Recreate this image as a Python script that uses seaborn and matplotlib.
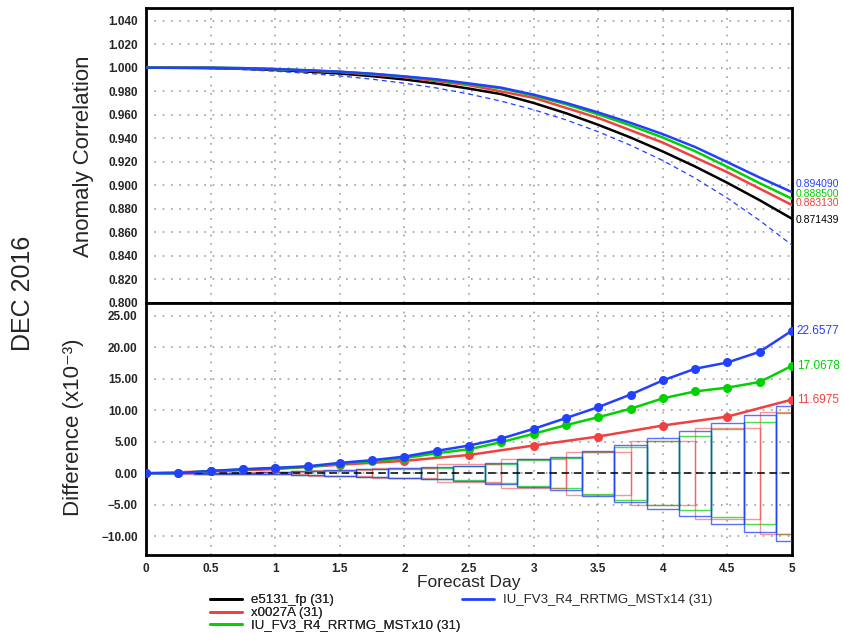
import numpy as np
import pandas as pd
import matplotlib
matplotlib.use("Agg")
import matplotlib.pyplot as plt
import seaborn as sns
from matplotlib.lines import Line2D

# ---------------- data ----------------
days = [0, 0.25, 0.5, 0.75, 1.0, 1.25, 1.5, 1.75, 2.0, 2.25, 2.5,
        2.75, 3.0, 3.25, 3.5, 3.75, 4.0, 4.25, 4.5, 4.75, 5.0]
days_half = [0, 0.5, 1.0, 1.5, 2.0, 2.5, 3.0, 3.5, 4.0, 4.5, 5.0]

series_names = ["e5131_fp (31)", "x0027A (31)",
                "IU_FV3_R4_RRTMG_MSTx10 (31)", "IU_FV3_R4_RRTMG_MSTx14 (31)"]

# anomaly correlation (top panel)
ac_e5131 = [1.0000, 0.9999, 0.9996, 0.9990, 0.9980, 0.9967, 0.9950, 0.9928, 0.9900, 0.9865,
            0.9822, 0.9775, 0.9700, 0.9613, 0.9514, 0.9406, 0.9287, 0.9159, 0.9020, 0.8872, 0.871439]
ac_x0027a = [1.0000, 0.9999, 0.99865, 0.99635, 0.99196, 0.9851, 0.9744, 0.95723, 0.93628, 0.9110, 0.883130]
ac_mst10 = [1.0000, 0.9999, 0.99995, 0.9996, 0.9988, 0.9977, 0.9965, 0.9947, 0.9924, 0.9897,
            0.9860, 0.98244, 0.97626, 0.96894, 0.9603, 0.95084, 0.9406, 0.9289, 0.9156, 0.9017, 0.888500]
ac_mst14 = [1.0000, 0.9999, 1.0000, 0.9996, 0.9989, 0.9978, 0.9966, 0.9949, 0.9926, 0.9901,
            0.9866, 0.9830, 0.97705, 0.97006, 0.9619, 0.9531, 0.94345, 0.9325, 0.9196, 0.9065, 0.894090]
ac_dashed = [1.0000, 0.9998, 0.9993, 0.9984, 0.9970, 0.9952, 0.9930, 0.9902, 0.9868, 0.9827,
             0.9776, 0.9715, 0.9642, 0.9556, 0.9455, 0.9340, 0.9210, 0.9060, 0.8890, 0.8700, 0.8490]

# difference from e5131_fp (x10^-3, bottom panel)
diff_e5131 = [0] * 21
diff_x0027a = [0, 0.3, 0.65, 1.35, 1.96, 2.9, 4.4, 5.83, 7.58, 9.0, 11.6975]
diff_mst10 = [0, 0, 0.35, 0.6, 0.8, 1.0, 1.5, 1.9, 2.39, 3.18, 3.8, 4.94, 6.26, 7.64,
              8.9, 10.24, 11.9, 13.0, 13.6, 14.5, 17.0678]
diff_mst14 = [0, 0, 0.37, 0.63, 0.85, 1.1, 1.64, 2.07, 2.64, 3.55, 4.4, 5.5, 7.05, 8.76,
              10.5, 12.5, 14.75, 16.6, 17.6, 19.3, 22.6577]

# significance half-widths (x10^-3)
sig_x0027a = [0, 0.05, 0.2, 0.5, 0.75, 1.4, 2.3, 3.45, 5.1, 7.2, 9.65]
sig_mst10 = [0, 0.02, 0.05, 0.1, 0.18, 0.3, 0.42, 0.6, 0.72, 0.88, 1.1, 1.5, 2.05, 2.4,
             3.3, 4.2, 5.05, 5.85, 6.95, 8.15, 9.6]
sig_mst14 = [0, 0.02, 0.05, 0.1, 0.2, 0.35, 0.45, 0.65, 0.77, 0.93, 1.2, 1.65, 2.2, 2.65,
             3.6, 4.55, 5.65, 6.75, 8.0, 9.3, 10.7]

top_end_labels = ["0.894090", "0.888500", "0.883130", "0.871439"]
bot_end_labels = ["22.6577", "17.0678", "11.6975"]

# ---------------- style ----------------
sns.set_style("white")
plt.rcParams["font.family"] = ["Liberation Sans", "DejaVu Sans"]

C_BLACK = "#000000"
C_RED = "#f24040"
C_GREEN = "#00d200"
C_BLUE = "#2340ff"

fig = plt.figure(figsize=(8.43, 6.33), dpi=100)
ax1 = fig.add_axes([146 / 843, 1 - 302.7 / 633, 646 / 843, (302.7 - 8) / 633])
ax2 = fig.add_axes([146 / 843, 1 - 555 / 633, 646 / 843, (555 - 302.7) / 633])

grid_kw = dict(color="#a0a0a0", linestyle=(0, (1, 4)), linewidth=1.2)

# ---------------- top panel ----------------
df_top = pd.DataFrame({"day": days, "ac": ac_e5131})
sns.lineplot(data=df_top, x="day", y="ac", ax=ax1, color=C_BLACK, lw=1.8, zorder=5)
sns.lineplot(x=days_half, y=ac_x0027a, ax=ax1, color=C_RED, lw=1.8, zorder=5)
sns.lineplot(x=days, y=ac_mst10, ax=ax1, color=C_GREEN, lw=1.8, zorder=5)
sns.lineplot(x=days, y=ac_dashed, ax=ax1, color=C_BLUE, lw=0.9, linestyle=(0, (4, 3)), zorder=5)
sns.lineplot(x=days, y=ac_mst14, ax=ax1, color=C_BLUE, lw=1.8, zorder=6)

ax1.set_xlim(0, 5)
ax1.set_ylim(0.8, 1.0508)
ax1.set_xticks(np.arange(0, 5.01, 0.5))
ax1.set_xticklabels([])
yt = np.round(np.arange(0.8, 1.0401, 0.02), 3)
ax1.set_yticks(yt)
ax1.set_yticklabels([f"{v:.3f}" for v in yt], fontweight="bold")
ax1.grid(True, **grid_kw)
ax1.set_xlabel("")
ax1.set_ylabel("")
ax1.tick_params(axis="y", direction="out", length=4, width=1.5, labelsize=8.5, pad=2)
ax1.tick_params(axis="x", length=0)

top_vals = [ac_mst14[-1], ac_mst10[-1], ac_x0027a[-1], ac_e5131[-1]]
top_cols = [C_BLUE, C_GREEN, C_RED, C_BLACK]
top_offs = [5.8, 3.7, 1.4, -0.9]
for lab, v, c, o in zip(top_end_labels, top_vals, top_cols, top_offs):
    ax1.annotate(lab, xy=(5, v), xytext=(2.5, o), textcoords="offset points",
                 color=c, fontsize=7.5, va="center", ha="left", annotation_clip=False)

# ---------------- bottom panel ----------------
ax2.bar(days, [2 * h for h in sig_mst10], bottom=[-h for h in sig_mst10], width=0.25,
        fill=False, edgecolor=C_GREEN, linewidth=1.0, alpha=0.7, zorder=2)
ax2.bar(days_half, [2 * h for h in sig_x0027a], bottom=[-h for h in sig_x0027a], width=0.5,
        fill=False, edgecolor=C_RED, linewidth=1.0, alpha=0.55, zorder=2)
ax2.bar(days, [2 * h for h in sig_mst14], bottom=[-h for h in sig_mst14], width=0.25,
        fill=False, edgecolor=C_BLUE, linewidth=1.0, alpha=0.75, zorder=3)

sns.lineplot(x=days, y=diff_e5131, ax=ax2, color=C_BLACK, lw=1.1,
             linestyle=(0, (5, 3)), zorder=4)
mk = dict(marker="o", markersize=6.5, markeredgewidth=0)
sns.lineplot(x=days_half, y=diff_x0027a, ax=ax2, color=C_RED, lw=1.8, zorder=5, **mk)
sns.lineplot(x=days, y=diff_mst10, ax=ax2, color=C_GREEN, lw=1.8, zorder=5, **mk)
sns.lineplot(x=days, y=diff_mst14, ax=ax2, color=C_BLUE, lw=1.8, zorder=6, **mk)

ax2.set_xlim(0, 5)
ax2.set_ylim(-13.0, 27.1)
xt = np.arange(0, 5.01, 0.5)
ax2.set_xticks(xt)
ax2.set_xticklabels([f"{v:g}" for v in xt], fontweight="bold")
yt2 = np.arange(-10, 25.01, 5)
ax2.set_yticks(yt2)
ax2.set_yticklabels([f"{v:.2f}".replace("-", "\u2212") for v in yt2], fontweight="bold")
ax2.grid(True, **grid_kw)
ax2.set_xlabel("")
ax2.set_ylabel("")
ax2.tick_params(axis="y", direction="out", length=4, width=1.5, labelsize=8.5, pad=2)
ax2.tick_params(axis="x", direction="out", length=5, width=2, labelsize=8.5, pad=1)

bot_vals = [diff_mst14[-1], diff_mst10[-1], diff_x0027a[-1]]
for lab, v, c in zip(bot_end_labels, bot_vals, [C_BLUE, C_GREEN, C_RED]):
    ax2.annotate(lab, xy=(5, v), xytext=(3.5, 0), textcoords="offset points",
                 color=c, fontsize=8.5, va="center", ha="left", annotation_clip=False)

for ax in (ax1, ax2):
    for s in ax.spines.values():
        s.set_visible(True)
        s.set_linewidth(2.0)
        s.set_color("black")
    ax.set_axisbelow(True)

# ---------------- texts ----------------
fig.text(83 / 843, 1 - 156 / 633, "Anomaly Correlation", rotation=90,
         ha="center", va="center", fontsize=16)
fig.text(73 / 843, 1 - 427 / 633, "Difference (x10\u207b\u00b3)", rotation=90,
         ha="center", va="center", fontsize=16)
fig.text(23 / 843, 1 - 293 / 633, "DEC 2016", rotation=90,
         ha="center", va="center", fontsize=18)
fig.text(469 / 843, 1 - 582 / 633, "Forecast Day", ha="center", va="center",
         fontsize=12.5)

# ---------------- legend ----------------
h_black = Line2D([], [], color=C_BLACK, lw=2)
h_red = Line2D([], [], color=C_RED, lw=2)
h_green = Line2D([], [], color=C_GREEN, lw=2)
h_blue = Line2D([], [], color=C_BLUE, lw=2)
leg_kw = dict(frameon=False, fontsize=9.5, handlelength=2.4, handletextpad=0.7,
              labelspacing=0.05, borderpad=0, borderaxespad=0, loc="upper left")
leg1 = fig.legend([h_black, h_red, h_green], series_names[:3],
                  bbox_to_anchor=(210 / 843, 1 - 594 / 633), **leg_kw)
fig.add_artist(leg1)
leg2 = fig.legend([h_blue], series_names[3:],
                  bbox_to_anchor=(462 / 843, 1 - 594 / 633), **leg_kw)

fig.savefig("out.png", dpi=100)
